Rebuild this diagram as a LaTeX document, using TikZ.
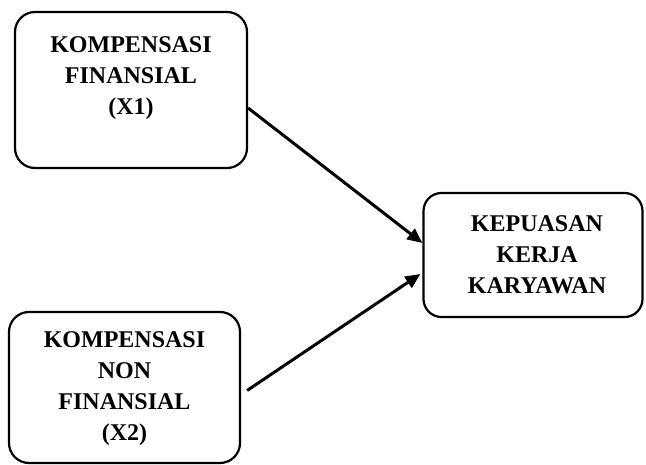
\documentclass[tikz,border=0pt]{standalone}
\usepackage{fontspec}
\setmainfont{Liberation Serif}
\usetikzlibrary{arrows.meta}
\begin{document}
\begin{tikzpicture}[x=1pt,y=-1pt,
  box/.style={draw=black, line width=2.2pt, rounded corners=20pt, inner sep=0pt},
  lbl/.style={align=center, font=\fontsize{24}{31}\selectfont\bfseries, inner sep=0pt},
  conn/.style={line width=3pt, -{Triangle[length=15pt,width=13pt]}, shorten >=0pt}]
\useasboundingbox (0,0) rectangle (646,465);
\node[box, minimum width=232pt, minimum height=156pt] (b1) at (131,90) {};
\node[lbl] (l1) at (131,78) {KOMPENSASI\\FINANSIAL\\(X1)};
\node[box, minimum width=231pt, minimum height=151pt] (b2) at (124.5,387.5) {};
\node[lbl] (l2) at (124.5,389) {KOMPENSASI\\NON\\FINANSIAL\\(X2)};
\node[box, minimum width=219pt, minimum height=124pt, rounded corners=18pt] (b3) at (533,255) {};
\node[lbl] (l3) at (537,255) {KEPUASAN\\KERJA\\KARYAWAN};
\coordinate (s1) at ([yshift=-18pt]b1.east);
\coordinate (s2) at ([xshift=6pt,yshift=-3pt]b2.east);
\coordinate (e1) at ([yshift=12pt]b3.west);
\coordinate (e2) at ([xshift=-2pt,yshift=-19pt]b3.west);
\draw[conn] (s1) -- (e1);
\draw[conn] (s2) -- (e2);
\end{tikzpicture}
\end{document}
